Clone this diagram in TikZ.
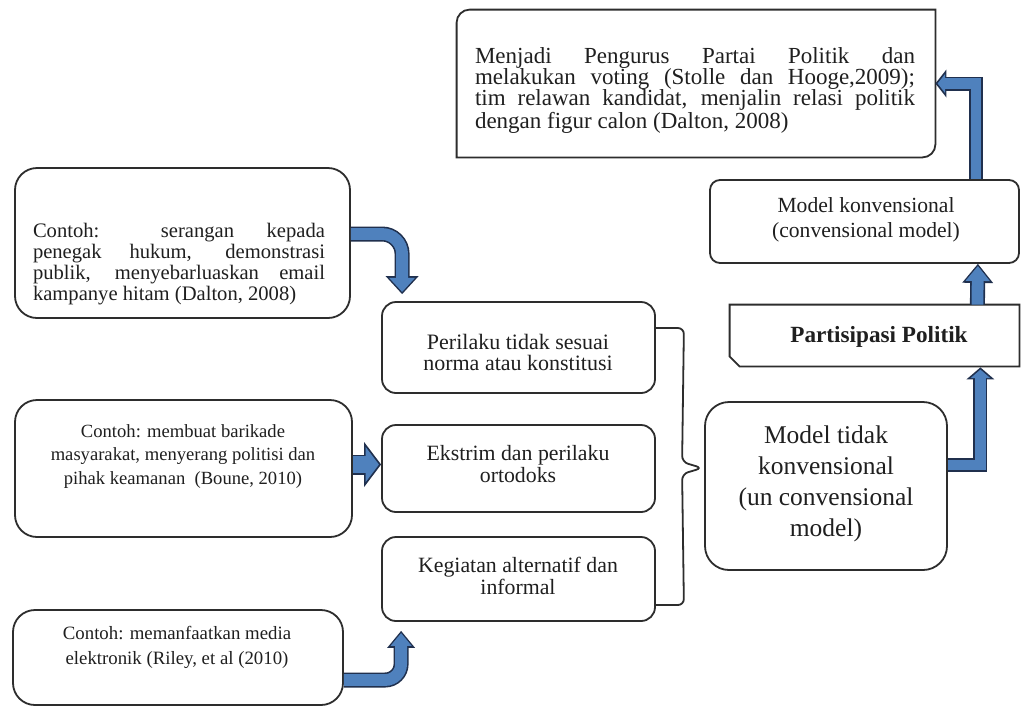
\documentclass[tikz,border=0pt]{standalone}
\usepackage{fontspec}
\setmainfont{Liberation Serif}
\usetikzlibrary{arrows.meta,calc,fit}

\definecolor{ablue}{RGB}{79,129,189}
\definecolor{adark}{RGB}{32,48,78}
\definecolor{boxline}{RGB}{45,45,45}

\tikzset{
  rbox/.style={draw=boxline, line width=0.9pt, rounded corners=#1, inner sep=0pt},
  rbox/.default=7pt,
  plainbox/.style={inner sep=0pt},
  boxpath/.style={draw=boxline, line width=0.9pt},
  txt/.style={inner sep=0pt, align=center, text=black!88},
  just/.style={inner sep=0pt, align=justify, text=black!88, text width=#1},
  bracket/.style={draw=boxline, line width=0.9pt, rounded corners=3pt},
  blockarrow/.style n args={5}{
    preaction={draw=adark, line width=#1, shorten >=0pt,
      -{Triangle[length=#2, width=#3, line width=0pt]}},
    draw=ablue, line width=#1-1.6pt, shorten >=1.1pt,
    -{Triangle[length=#4, width=#5, line width=0pt]}}
}

\begin{document}
\begin{tikzpicture}[x=0.5pt, y=-0.5pt]
\path[use as bounding box, fill=white] (0,0) rectangle (1021,708);

\node[plainbox, fit={(457,10) (935,157)}] (pengurus) {};
\draw[boxpath] (pengurus.south west) -- ([yshift=-6.5pt]pengurus.north west) arc[start angle=180, end angle=90, radius=6.5pt]
  -- (pengurus.north east) -- ([yshift=6.5pt]pengurus.south east) arc[start angle=0, end angle=-90, radius=6.5pt] -- cycle;
\node[just=220pt, font={\fontsize{11.5}{10.5}\selectfont\tolerance=9999\hyphenpenalty=10000}] (pengurus-t) at (695,90.5)
  {Menjadi Pengurus Partai Politik dan\linebreak melakukan voting (Stolle dan Hooge,2009);\linebreak tim relawan kandidat, menjalin relasi politik\linebreak dengan figur calon (Dalton, 2008)};

\node[rbox=5pt, fit={(710,180) (1019,263)}] (konv) {};
\node[txt, font=\fontsize{10.8}{12.5}\selectfont] (konv-t) at (866,219.5) {Model konvensional\\(convensional model)};

\node[plainbox, fit={(730,305) (1019,366)}] (partisipasi) {};
\draw[boxpath] (partisipasi.north west) -- (partisipasi.north east) -- (partisipasi.south east)
  -- ([xshift=5pt]partisipasi.south west) -- ([yshift=5pt]partisipasi.south west) -- cycle;
\node[txt, font=\fontsize{11.6}{13}\selectfont\bfseries] (partisipasi-t) at (879,337) {Partisipasi Politik};

\node[rbox=12pt, fit={(705,402) (947,570)}] (takkonv) {};
\node[txt, font=\fontsize{12.75}{15.5}\selectfont] (takkonv-t) at (826,483.5) {Model tidak\\konvensional\\(un convensional\\model)};

\node[rbox, fit={(382,302) (655,393)}] (perilaku) {};
\node[txt, font=\fontsize{11}{10.2}\selectfont] (perilaku-t) at (518,352.5) {Perilaku tidak sesuai\\norma atau konstitusi};

\node[rbox, fit={(382,425) (655,512)}] (ekstrim) {};
\node[txt, font=\fontsize{10.9}{11}\selectfont] (ekstrim-t) at (518,464) {Ekstrim dan perilaku\\ortodoks};

\node[rbox, fit={(382,537) (655,621)}] (kegiatan) {};
\node[txt, font=\fontsize{10.9}{11}\selectfont] (kegiatan-t) at (518,576) {Kegiatan alternatif dan\\informal};

\node[rbox=11pt, fit={(15,168) (350,318)}] (contoha) {};
\node[just=146pt, font={\fontsize{10.3}{9.2}\selectfont\tolerance=9999\hyphenpenalty=10000}] (contoha-t) at (179,264)
  {Contoh: serangan kepada\linebreak penegak hukum, demonstrasi\linebreak publik, menyebarluaskan email\linebreak kampanye hitam (Dalton, 2008)};

\node[rbox=11pt, fit={(15,400) (352,537)}] (contohb) {};
\node[txt, font=\fontsize{9.3}{11.75}\selectfont] (contohb-t) at (183,456.5) {Contoh: membuat barikade\\masyarakat, menyerang politisi dan\\pihak keamanan \ (Boune, 2010)};

\node[rbox=11pt, fit={(13,610) (343,705)}] (contohc) {};
\node[txt, font=\fontsize{9.4}{12.5}\selectfont] (contohc-t) at (177,647.5) {Contoh: memanfaatkan media\\elektronik (Riley, et al (2010)};

\coordinate (bracetop) at ($(perilaku.east)+(0,-19.5)$);
\coordinate (bracebot) at ($(kegiatan.east)+(0,26)$);
\coordinate (bracetip) at ($(takkonv.west)+(-2,-18)$);
\draw[bracket] (bracetop) -- ++(28,0) -- ($(bracetip)+(-20,-6)$) -- (bracetip) -- ($(bracetip)+(-20,6)$)
  -- ($(bracebot)+(28,0)$) -- (bracebot);

\draw[blockarrow={7.5pt}{9pt}{16.5pt}{7pt}{12.9pt}, rounded corners=10pt] ($(contoha.east)+(0,-9)$) -| ($(perilaku.north west)+(21,-7)$);
\draw[blockarrow={10pt}{8.5pt}{22.5pt}{6.7pt}{17.7pt}] ($(contohb.east)+(0,-4)$) -- ($(ekstrim.west)+(0,-4)$);
\draw[blockarrow={7.5pt}{8.5pt}{14pt}{6.4pt}{10.6pt}, rounded corners=8pt] ($(contohc.east)+(0,22.5)$) -| ($(kegiatan.south west)+(20,9)$);
\draw[blockarrow={7pt}{6pt}{14pt}{4.2pt}{9.7pt}] ($(takkonv.east)+(0,-21)$) -| ($(partisipasi.south east)+(-39,1)$);
\draw[blockarrow={7.5pt}{9.5pt}{15.5pt}{7.4pt}{12.1pt}] ($(partisipasi.north east)+(-42,0)$) -- ($(konv.south east)+(-42,0)$);
\draw[blockarrow={7pt}{5.5pt}{14pt}{3.7pt}{9.4pt}] ($(konv.north east)+(-44,0)$) |- (pengurus.east);

\end{tikzpicture}
\end{document}
